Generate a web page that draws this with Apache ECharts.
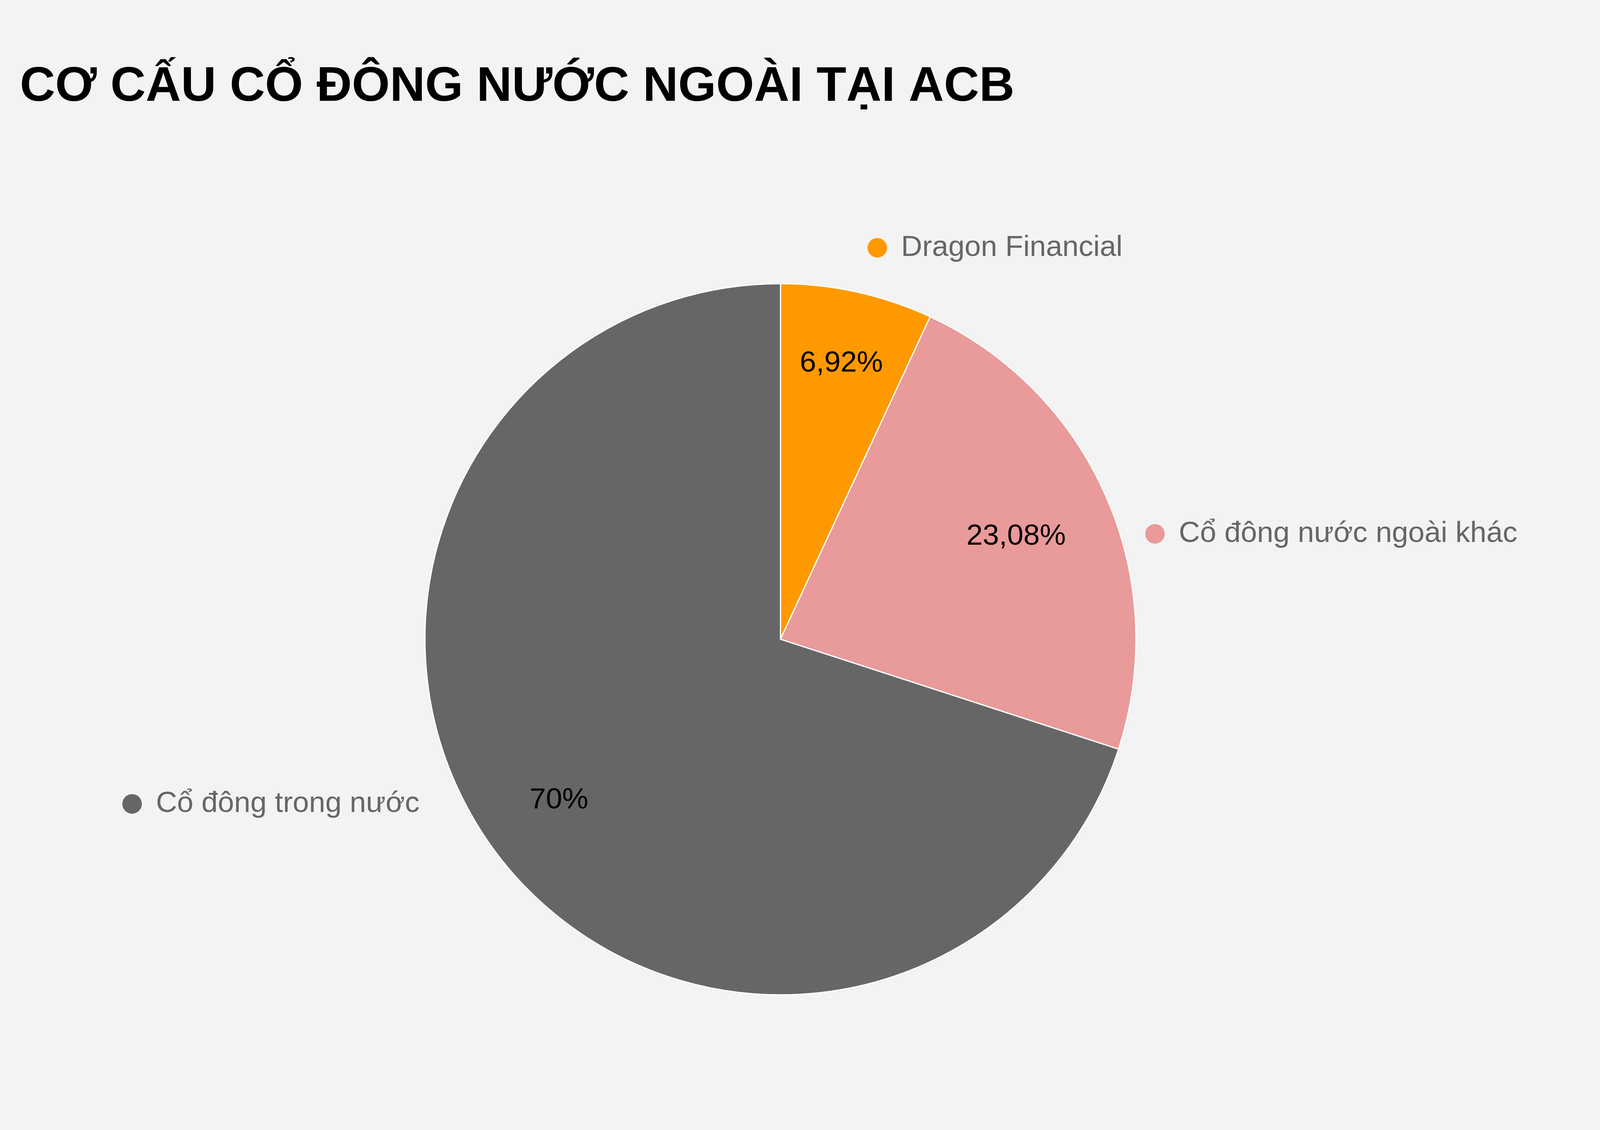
<!DOCTYPE html>
<html><head><meta charset="utf-8">
<script src="https://cdn.jsdelivr.net/npm/echarts@6/dist/echarts.min.js"></script>
<style>html,body{margin:0;padding:0;background:#f3f3f3}#c{width:4171px;height:2892px}</style>
</head><body><div id="c"></div>
<script>
const titleText = 'CƠ CẤU CỔ ĐÔNG NƯỚC NGOÀI TẠI ACB';
const categories = ['Dragon Financial', 'Cổ đông nước ngoài khác', 'Cổ đông trong nước'];
const values = [6.92, 23.08, 70];
const colors = ['#ff9900', '#e99a9a', '#666666'];

// label placement (layout only)
const outerReach = [1026, 675, 717];
const outerShift = [1.5, 315, 344];
const innerRingInner = [530, 400, 486];

const FONT = '"Liberation Sans", Arial, sans-serif';
const CENTER = [1998, 1636];
const R = 910;

const chart = echarts.init(document.getElementById('c'), null, {renderer: 'canvas'});

const rich = {txt: {fontSize: 75, color: '#666666', fontFamily: FONT, padding: [0, 0, 0, 36]}};
colors.forEach((c, i) => { rich['dot' + i] = {width: 50, height: 50, borderRadius: 25, backgroundColor: c}; });

const mainData = categories.map((n, i) => ({name: n, value: values[i], itemStyle: {color: colors[i]}}));
const outerData = categories.map((n, i) => ({
  name: n, value: values[i],
  labelLine: {show: false, length: outerReach[i] - 1, length2: outerShift[i]}
}));

const innerSeries = categories.map((_, k) => ({
  type: 'pie', center: CENTER, radius: [innerRingInner[k], R], startAngle: 90, clockwise: true,
  avoidLabelOverlap: false, silent: true,
  itemStyle: {color: 'rgba(0,0,0,0)', borderWidth: 0},
  label: {
    show: true, position: 'inside', fontFamily: FONT, fontSize: 75, color: '#000',
    formatter: p => String(p.value).replace('.', ',') + '%'
  },
  labelLine: {show: false},
  data: categories.map((n, i) => ({name: n, value: values[i], label: {show: i === k}}))
}));

chart.setOption({
  backgroundColor: '#f3f3f3',
  animation: false,
  title: {
    text: titleText, left: 46, top: 156,
    textStyle: {fontFamily: FONT, fontSize: 125, fontWeight: 'bold', color: '#000'}
  },
  series: [
    {
      type: 'pie', center: CENTER, radius: [0, R], startAngle: 90, clockwise: true,
      avoidLabelOverlap: false, silent: true,
      itemStyle: {borderColor: '#ffffff', borderWidth: 3},
      label: {show: false}, labelLine: {show: false},
      data: mainData
    },
    ...innerSeries,
    {
      type: 'pie', center: CENTER, radius: [0, 1], startAngle: 90, clockwise: true,
      avoidLabelOverlap: false, silent: true,
      itemStyle: {color: 'rgba(0,0,0,0)', borderWidth: 0},
      label: {
        show: true, position: 'outer', alignTo: 'none', distanceToLabelLine: 0, overflow: 'none',
        formatter: p => '{dot' + p.dataIndex + '|}{txt|' + p.name + '}',
        rich: rich
      },
      labelLine: {show: false},
      data: outerData
    }
  ]
});
</script></body></html>
